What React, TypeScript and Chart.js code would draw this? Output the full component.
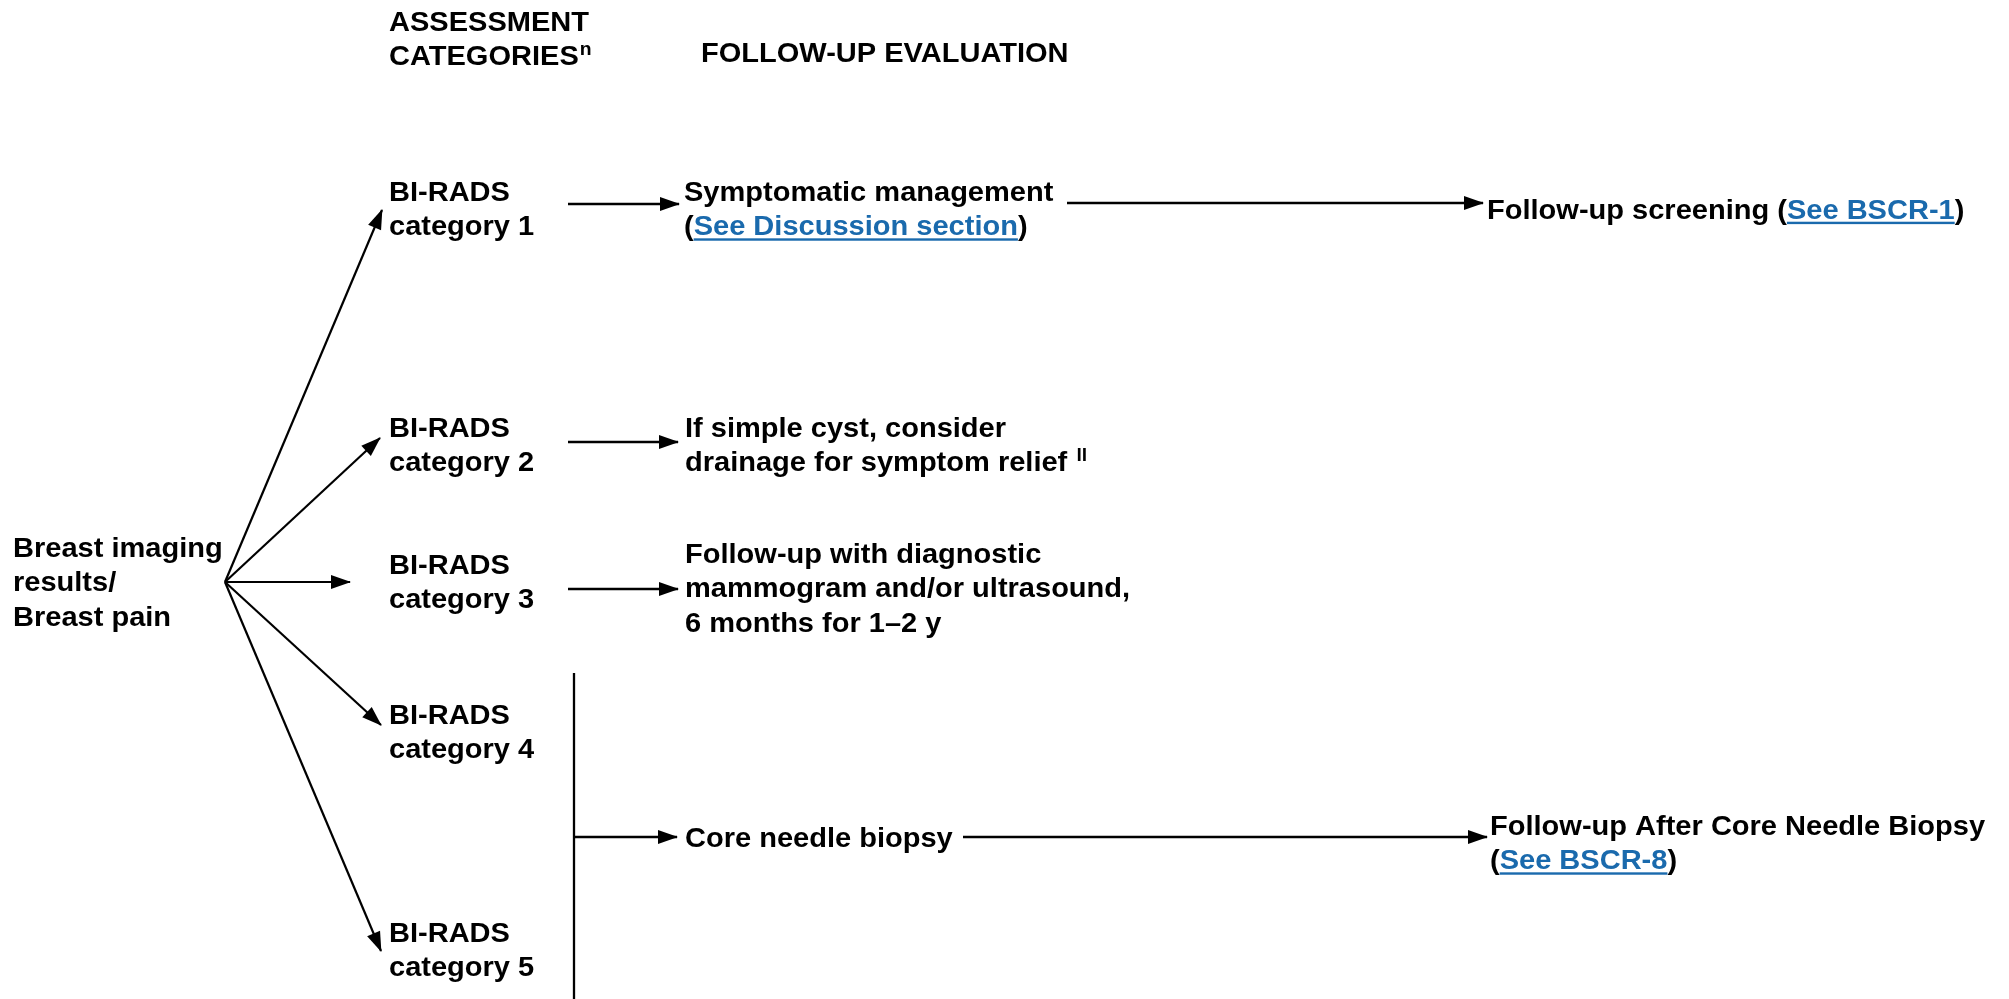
import React, { useEffect, useRef } from 'react';
import { Chart, registerables } from 'chart.js';

Chart.register(...registerables);

const W = 2009;
const H = 999;
const FONT = "'Liberation Sans', Arial, Helvetica, sans-serif";
const FONT_SIZE = 27;
const H_STRETCH = 1.075;
const SUP_SIZE = 18;
const LINE_H = 34.6;
const INK = '#000000';
const LINK_COLOR = '#1a6aad';

// ---- text content ([...] = link, ^x = superscript) ----
const headerAssessment = ['ASSESSMENT', 'CATEGORIES^n'];
const headerFollowUp = ['FOLLOW-UP EVALUATION'];
const rootLabel = ['Breast imaging', 'results/', 'Breast pain'];
const categoryNames = ['category 1', 'category 2', 'category 3', 'category 4', 'category 5'];
const categoryPrefix = 'BI-RADS';
const followUpLabels = [
  ['Symptomatic management', '([See Discussion section])'],
  ['If simple cyst, consider', 'drainage for symptom relief ^ll'],
  ['Follow-up with diagnostic', 'mammogram and/or ultrasound,', '6 months for 1\u20132 y'],
  ['Core needle biopsy'],
];
const nextStepLabels = [
  ['Follow-up screening ([See BSCR-1])'],
  ['Follow-up After Core Needle Biopsy', '([See BSCR-8])'],
];

// ---- layout (chart units = pixels of the 2009x999 canvas) ----
const headerAssessmentPos = [389, 21];
const headerFollowUpPos = [701, 52];
const rootPos = [13, 547];
const categoryX = 389;
const categoryY = [191, 427, 564, 714, 932];
const followUpPos = [[684, 191], [685, 427], [685, 553], [685, 837]];
const nextStepPos = [[1487, 209], [1490, 825]];

// ---- connectors ----
const fanOrigin = [225, 582];
const fanTips = [[382, 210], [380, 438], [350, 582], [381, 725], [381, 951]];
const stepArrows = [
  [[568, 204], [679, 204]],
  [[568, 442], [678, 442]],
  [[568, 589], [678, 589]],
  [[574, 837], [677, 837]],
  [[1067, 203], [1483, 203]],
  [[963, 837], [1487, 837]],
];
const bracketLine = [[574, 673], [574, 999]];

type Block = { x: number; y: number; lines: string[] };

const textBlocks: Block[] = [
  { x: headerAssessmentPos[0], y: headerAssessmentPos[1], lines: headerAssessment },
  { x: headerFollowUpPos[0], y: headerFollowUpPos[1], lines: headerFollowUp },
  { x: rootPos[0], y: rootPos[1], lines: rootLabel },
  ...categoryNames.map((c, i) => ({ x: categoryX, y: categoryY[i], lines: [categoryPrefix, c] })),
  ...followUpLabels.map((l, i) => ({ x: followUpPos[i][0], y: followUpPos[i][1], lines: l })),
  ...nextStepLabels.map((l, i) => ({ x: nextStepPos[i][0], y: nextStepPos[i][1], lines: l })),
];

function drawRich(ctx: CanvasRenderingContext2D, x: number, yc: number, text: string) {
  const base = yc + FONT_SIZE * 0.36;
  const parts = text.split(/(\[[^\]]*\]|\^\S+)/).filter((p) => p.length > 0);
  ctx.save();
  ctx.translate(x, base);
  ctx.scale(H_STRETCH, 1);
  let cx = 0;
  ctx.textBaseline = 'alphabetic';
  ctx.textAlign = 'left';
  for (const p of parts) {
    if (p.startsWith('[')) {
      const t = p.slice(1, -1);
      ctx.font = `bold ${FONT_SIZE}px ${FONT}`;
      ctx.fillStyle = LINK_COLOR;
      ctx.fillText(t, cx, 0);
      const w = ctx.measureText(t).width;
      ctx.fillRect(cx, 3, w, 2.4);
      cx += w;
    } else if (p.startsWith('^')) {
      const t = p.slice(1);
      ctx.font = `bold ${SUP_SIZE}px ${FONT}`;
      ctx.fillStyle = INK;
      ctx.fillText(t, cx + 1, -10);
      cx += ctx.measureText(t).width + 1;
    } else {
      ctx.font = `bold ${FONT_SIZE}px ${FONT}`;
      ctx.fillStyle = INK;
      ctx.fillText(p, cx, 0);
      cx += ctx.measureText(p).width;
    }
  }
  ctx.restore();
}

const flowPlugin = {
  id: 'flowDecor',
  afterDatasetsDraw(chart: any) {
    const ctx: CanvasRenderingContext2D = chart.ctx;
    ctx.save();
    chart.data.datasets.forEach((ds: any, i: number) => {
      if (!ds.arrow) return;
      const pts = chart.getDatasetMeta(i).data;
      const a = pts[pts.length - 2];
      const b = pts[pts.length - 1];
      const dx = b.x - a.x;
      const dy = b.y - a.y;
      const L = Math.hypot(dx, dy);
      const ux = dx / L;
      const uy = dy / L;
      const len = 19;
      const hw = 7;
      const bx = b.x - ux * len;
      const by = b.y - uy * len;
      ctx.beginPath();
      ctx.moveTo(b.x + ux * 1, b.y + uy * 1);
      ctx.lineTo(bx - uy * hw, by + ux * hw);
      ctx.lineTo(bx + uy * hw, by - ux * hw);
      ctx.closePath();
      ctx.fillStyle = INK;
      ctx.fill();
    });
    const xs = chart.scales.x;
    const ys = chart.scales.y;
    textBlocks.forEach((blk) => {
      const px = xs.getPixelForValue(blk.x);
      blk.lines.forEach((line, li) => {
        const py = ys.getPixelForValue(blk.y + li * LINE_H);
        drawRich(ctx, px, py, line);
      });
    });
    ctx.restore();
  },
};

function seg(p: number[], q: number[], width: number, arrow: boolean) {
  return {
    data: [{ x: p[0], y: p[1] }, { x: q[0], y: q[1] }],
    showLine: true,
    borderColor: INK,
    backgroundColor: INK,
    borderWidth: width,
    borderCapStyle: 'butt',
    pointRadius: 0,
    pointHoverRadius: 0,
    arrow,
  } as any;
}

export default function App() {
  const ref = useRef<HTMLCanvasElement | null>(null);
  useEffect(() => {
    document.body.style.margin = '0';
    document.body.style.background = '#ffffff';
    const datasets = [
      ...fanTips.map((t) => seg(fanOrigin, t, 2.2, true)),
      ...stepArrows.map(([p, q]) => seg(p, q, 2.7, true)),
      seg(bracketLine[0], bracketLine[1], 2.3, false),
    ];
    const chart = new Chart(ref.current as HTMLCanvasElement, {
      type: 'scatter',
      data: { datasets },
      options: {
        responsive: false,
        maintainAspectRatio: false,
        animation: false,
        events: [],
        layout: { padding: 0 },
        plugins: { legend: { display: false }, tooltip: { enabled: false }, title: { display: false } },
        scales: {
          x: { type: 'linear', min: 0, max: W, display: false },
          y: { type: 'linear', min: 0, max: H, reverse: true, display: false },
        },
      },
      plugins: [flowPlugin],
    } as any);
    return () => chart.destroy();
  }, []);
  return (
    <div style={{ width: W, height: H, background: '#fff' }}>
      <canvas ref={ref} width={W} height={H} style={{ display: 'block' }} />
    </div>
  );
}
